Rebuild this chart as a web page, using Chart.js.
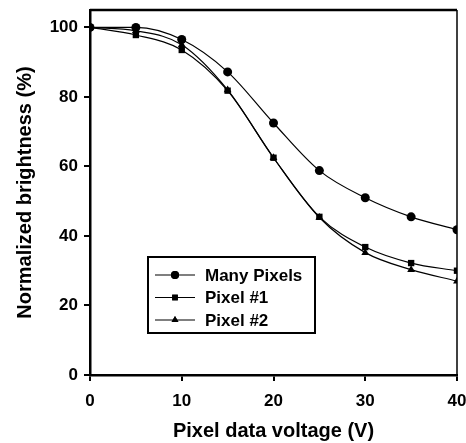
<!DOCTYPE html>
<html>
<head>
<meta charset="utf-8">
<script src="https://cdn.jsdelivr.net/npm/chart.js@4.4.1/dist/chart.umd.min.js"></script>
<style>
  html, body { margin: 0; padding: 0; background: #fff; }
  #wrap { width: 466px; height: 443px; }
</style>
</head>
<body>
<div id="wrap"><canvas id="chart" width="466" height="443"></canvas></div>
<script>
const voltage = [0, 5, 10, 15, 20, 25, 30, 35, 40];
const manyPixels = [100, 100, 96.5, 87.2, 72.5, 58.8, 51.0, 45.5, 41.8];
const pixel1 = [100, 97.8, 93.5, 81.8, 62.5, 45.5, 36.8, 32.2, 30.0];
const pixel2 = [100, 99.0, 95.0, 82.0, 62.5, 45.3, 35.2, 30.3, 27.0];
const xTicks = [0, 10, 20, 30, 40];
const yTicks = [0, 20, 40, 60, 80, 100];

const seriesNames = ['Many Pixels', 'Pixel #1', 'Pixel #2'];
const seriesStyles = ['circle', 'rect', 'triangle'];

const FONT = "'Liberation Sans', Arial, sans-serif";

function pts(ys) {
    return voltage.map((x, i) => ({ x: x, y: ys[i] }));
}

// frame (top + right) and boxed legend
const framePlugin = {
    id: 'frame',
    afterDatasetsDraw(chart) {
        const { ctx, chartArea: a } = chart;
        ctx.save();
        ctx.strokeStyle = '#000';
        ctx.lineWidth = 2.5;
        ctx.beginPath();
        ctx.moveTo(a.left, a.top);
        ctx.lineTo(a.right, a.top);
        ctx.stroke();
        ctx.lineWidth = 1.5;
        ctx.beginPath();
        ctx.moveTo(a.right, a.top);
        ctx.lineTo(a.right, a.bottom);
        ctx.stroke();

        // legend box
        const bx = a.left + 58, by = 257, bw = 167, bh = 76;
        ctx.fillStyle = '#fff';
        ctx.fillRect(bx, by, bw, bh);
        ctx.lineWidth = 2;
        ctx.strokeRect(bx, by, bw, bh);
        ctx.font = 'bold 17px ' + FONT;
        ctx.textBaseline = 'middle';
        ctx.textAlign = 'left';
        chart.data.datasets.forEach((ds, i) => {
            const y = by + 18 + i * 22.5;
            ctx.lineWidth = 1.2;
            ctx.beginPath();
            ctx.moveTo(bx + 7, y);
            ctx.lineTo(bx + 47, y);
            ctx.stroke();
            ctx.fillStyle = '#000';
            Chart.helpers.drawPoint(ctx, { pointStyle: ds.pointStyle, radius: 4, rotation: 0, borderWidth: 0 }, bx + 27, y);
            ctx.fill();
            ctx.fillText(ds.label, bx + 57, y + 1);
        });
        ctx.restore();
    }
};

const datasets = [manyPixels, pixel1, pixel2].map((vals, i) => ({
    label: seriesNames[i],
    data: pts(vals),
    pointStyle: seriesStyles[i],
    pointRadius: 4.5,
    pointBackgroundColor: '#000',
    pointBorderColor: '#000',
    pointBorderWidth: 0,
    borderColor: '#000',
    borderWidth: 1.2,
    cubicInterpolationMode: 'monotone',
    fill: false
}));

new Chart(document.getElementById('chart'), {
    type: 'line',
    data: { datasets: datasets },
    plugins: [framePlugin],
    options: {
        responsive: false,
        animation: false,
        layout: { padding: { top: 10, right: 9, left: 0, bottom: 0 } },
        plugins: { legend: { display: false }, tooltip: { enabled: false } },
        scales: {
            x: {
                type: 'linear',
                min: 0,
                max: 40,
                afterBuildTicks: s => { s.ticks = xTicks.map(v => ({ value: v })); },
                afterFit: s => { s.height = 68; s.paddingLeft = 0; s.paddingRight = 0; },
                grid: { drawOnChartArea: false, drawTicks: true, tickLength: 6, color: '#000', lineWidth: 2 },
                border: { display: true, color: '#000', width: 2.5 },
                ticks: { color: '#000', padding: 10, maxRotation: 0, font: { family: FONT, size: 17, weight: 'bold' } },
                title: { display: true, text: 'Pixel data voltage (V)', color: '#000', padding: { top: 4, bottom: 0 }, font: { family: FONT, size: 20, weight: 'bold' } }
            },
            y: {
                type: 'linear',
                min: 0,
                max: 105,
                afterBuildTicks: s => { s.ticks = yTicks.map(v => ({ value: v })); },
                afterFit: s => { s.width = 90; s.paddingTop = 0; s.paddingBottom = 0; },
                grid: { drawOnChartArea: false, drawTicks: true, tickLength: 6, color: '#000', lineWidth: 2 },
                border: { display: true, color: '#000', width: 2.5 },
                ticks: { color: '#000', padding: 6, font: { family: FONT, size: 17, weight: 'bold' } },
                title: { display: true, text: 'Normalized brightness (%)', color: '#000', padding: { top: 13, bottom: 4 }, font: { family: FONT, size: 20, weight: 'bold' } }
            }
        }
    }
});
</script>
</body>
</html>
